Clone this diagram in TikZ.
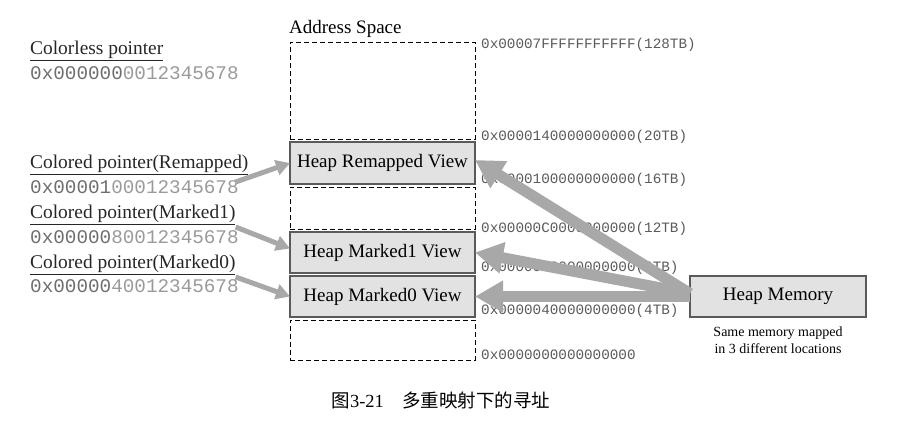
\documentclass[tikz,border=0pt]{standalone}
\usepackage{fontspec}
\setmainfont{Liberation Serif}
\setmonofont{Liberation Mono}
\newfontfamily\cjk{Noto Sans CJK SC}
\usetikzlibrary{positioning,arrows.meta}
\definecolor{boxfill}{HTML}{E2E2E2}
\definecolor{boxline}{HTML}{5A5A5A}
\definecolor{arrowgray}{HTML}{A8A8A8}
\definecolor{hexdark}{HTML}{6E6E6E}
\definecolor{hexlight}{HTML}{9A9A9A}
\newcommand{\hexptr}[2]{{\color{hexdark}#1}{\color{hexlight}#2}}

\begin{document}
\begin{tikzpicture}[x=1pt,y=-1pt,
  viewbox/.style={draw=boxline,line width=1.1pt,fill=boxfill,minimum width=185pt,inner sep=0pt,outer sep=0pt,anchor=north west,font=\fontsize{19}{22}\selectfont},
  emptybox/.style={draw,dash pattern=on 5pt off 3pt,line width=0.8pt,minimum width=185pt,inner sep=0pt,outer sep=0pt,anchor=north west},
  addr/.style={anchor=west,inner sep=0pt,text=boxline,font=\ttfamily\fontsize{14.3}{17}\selectfont},
  ptrtitle/.style={anchor=west,inner sep=0pt,text=black!85,font=\fontsize{19.4}{22}\selectfont},
  ptrhex/.style={anchor=west,inner sep=0pt,font=\ttfamily\fontsize{19.3}{22}\selectfont},
  ptrarrow/.style={draw=arrowgray,line width=5pt,-{Triangle[length=14pt,width=15pt]}},
  memarrow/.style={draw=arrowgray,line width=11pt,-{Triangle[length=28pt,width=30pt]}}]
\useasboundingbox (0,0) rectangle (904,420);

% address space column
\node[anchor=south west,inner sep=0pt,font=\fontsize{19}{22}\selectfont] (title) at (289,38) {Address Space};
\node[emptybox,minimum height=97pt] (top) at (290,42) {};
\node[viewbox,minimum height=42pt] (remapped) at (290,142) {Heap Remapped View};
\node[emptybox,minimum height=42pt] (gap) at (290,187) {};
\node[viewbox,minimum height=41pt] (marked1) at (290,232) {Heap Marked1 View};
\node[viewbox,minimum height=41pt] (marked0) at (290,276) {Heap Marked0 View};
\node[emptybox,minimum height=40pt] (bottom) at (290,320) {};

% address marks
\node[addr] (a128) at (481,45) {0x00007FFFFFFFFFFF(128TB)};
\node[addr] (a20) at (481,137) {0x0000140000000000(20TB)};
\node[addr] (a16) at (481,180) {0x0000100000000000(16TB)};
\node[addr] (a12) at (481,229) {0x00000C0000000000(12TB)};
\node[addr] (a8) at (481,268) {0x0000080000000000(8TB)};
\node[addr] (a4) at (481,311) {0x0000040000000000(4TB)};
\node[addr] (a0) at (481,355) {0x0000000000000000};

% pointers
\node[ptrtitle] (cl) at (30,51) {\underline{Colorless pointer}};
\node[ptrhex] (clhex) at (30,73) {\hexptr{0x000000}{0012345678}};
\node[ptrtitle] (rm) at (30,165) {\underline{Colored pointer(Remapped)}};
\node[ptrhex] (rmhex) at (30,187) {\hexptr{0x00001}{00012345678}};
\node[ptrtitle] (m1) at (30,215) {\underline{Colored pointer(Marked1)}};
\node[ptrhex] (m1hex) at (30,237) {\hexptr{0x00000}{80012345678}};
\node[ptrtitle] (m0) at (30,265) {\underline{Colored pointer(Marked0)}};
\node[ptrhex] (m0hex) at (30,286) {\hexptr{0x00000}{40012345678}};

% heap memory
\node[viewbox,minimum width=176pt,minimum height=41pt] (heapmem) at (690,276) {Heap Memory};
\node[below=10pt of heapmem,align=center,inner sep=0pt,font=\fontsize{14}{16.5}\selectfont] (note)
  {Same memory mapped\\in 3 different locations};

\draw[ptrarrow] ([xshift=-4pt,yshift=-2pt]rmhex.north east) -- (remapped.west);
\draw[ptrarrow] ([yshift=-2pt]m1.south east) -- ([yshift=4pt]marked1.west);
\draw[ptrarrow] ([yshift=-2pt]m0.south east) -- (marked0.west);

\draw[memarrow] ([yshift=3pt]heapmem.west) -- ([yshift=3pt]remapped.east);
\draw[memarrow] ([yshift=3pt]heapmem.west) -- (marked1.east);
\draw[memarrow] (heapmem.west) -- (marked0.east);

% caption
\node[font=\fontsize{18.5}{22}\selectfont] (caption) at (441,400) {{\cjk 图}3-21\quad{\cjk 多重映射下的寻址}};
\end{tikzpicture}
\end{document}
